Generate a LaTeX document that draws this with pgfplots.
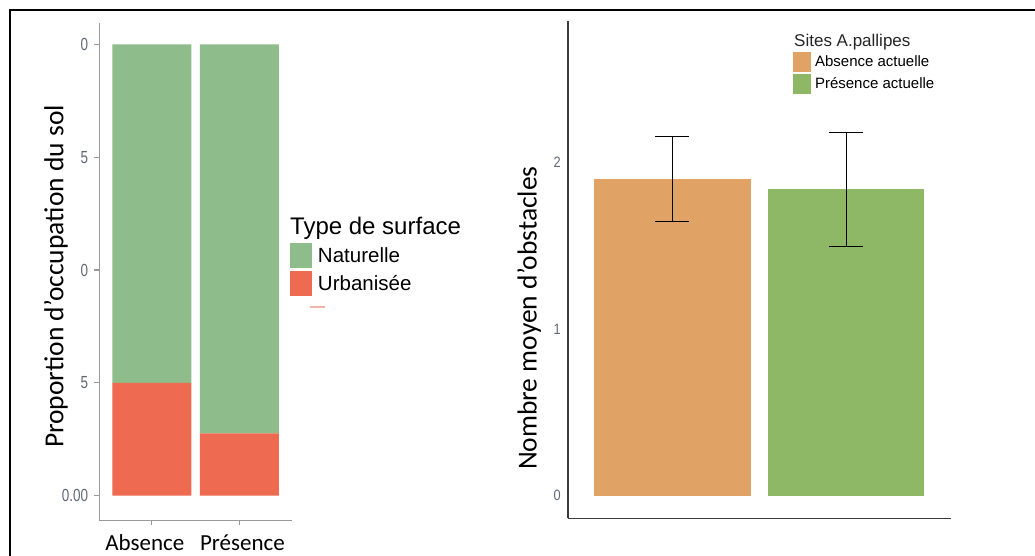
\documentclass[border=0pt]{standalone}
\usepackage{pgfplots}
\pgfplotsset{compat=1.18}
\usepackage{fontspec}
\setmainfont{Liberation Sans}
\newfontfamily\calibri{Carlito}
\newfontfamily\ticknarrow[FakeStretch=0.77]{Liberation Sans}
\newfontfamily\ticknarrowb[FakeStretch=0.85]{Liberation Sans}
\definecolor{nat}{HTML}{8FBC8B}
\definecolor{urb}{HTML}{EE6A50}
\definecolor{orng}{HTML}{E0A265}
\definecolor{grn}{HTML}{8FB866}
\definecolor{tickgray}{HTML}{5F6975}
\definecolor{axgray}{HTML}{9A9A9A}
\definecolor{darkax}{HTML}{3A3A3A}
\definecolor{artif}{HTML}{F4B3A6}
\pgfplotsset{
  sqlegA/.style={legend image code/.code={\fill[##1] (0pt,-12.5pt) rectangle (22pt,12.5pt);}},
  sqlegB/.style={legend image code/.code={\fill[##1] (0pt,-9.7pt) rectangle (17.4pt,9.7pt);}},
}
\begin{document}
\begin{tikzpicture}[x=1pt,y=1pt]
\useasboundingbox (0,0) rectangle (1035,556);
\fill[white] (0,0) rectangle (1035,556);
\draw[line width=2.2pt] (10,0) -- (10,546) -- (1040,546);

% ---------- left panel ----------
\begin{axis}[
  at={(99.3pt,35.7pt)}, anchor=south west, scale only axis,
  width=192.7pt, height=496.9pt,
  xmin=-0.6, xmax=1.6, ymin=-0.0545, ymax=1.0463,
  axis x line*=bottom, axis y line*=left,
  axis line style={axgray, line width=1.2pt, -},
  ybar stacked, bar width=79pt,
  xtick={0,1}, xticklabels={Absence\hspace*{14pt}, \hspace*{6pt}Présence},
  ytick={0,0.25,0.5,0.75,1}, yticklabels={0.00,5,0,5,0},
  tick align=outside, major tick length=5pt,
  tick style={axgray, line width=1.2pt},
  xticklabel style={font=\calibri\fontsize{23}{28}\selectfont, anchor=base, inner sep=0pt, yshift=-25.2pt},
  yticklabel style={font=\ticknarrow\fontsize{17.5}{20}\selectfont, text=tickgray, anchor=east, inner sep=0pt, xshift=-6pt},
  legend style={at={(0.9896,0.558)}, anchor=north west, draw=none, fill=none,
    inner sep=0pt, outer sep=0pt, row sep=3pt, column sep=6pt,
    font=\fontsize{20.5}{24}\selectfont, nodes={inner sep=0pt}},
  legend cell align=left,
]
\addlegendimage{sqlegA, fill=nat, draw=none}
\addlegendentry{Naturelle}
\addlegendimage{sqlegA, fill=urb, draw=none}
\addlegendentry{Urbanisée}
\addplot[fill=urb, draw=none, forget plot] coordinates {(0,0.25) (1,0.138)};
\addplot[fill=nat, draw=none, forget plot] coordinates {(0,0.75) (1,0.862)};
\end{axis}

% ---------- right panel ----------
\begin{axis}[
  at={(568pt,37.6pt)}, anchor=south west, scale only axis,
  width=382.6pt, height=497.1pt,
  xmin=-0.6, xmax=1.6, ymin=-0.136, ymax=2.848,
  axis x line*=bottom, axis y line*=left,
  axis line style={darkax, line width=1.2pt, -},
  xtick=\empty, ytick={0,1,2}, yticklabels={0,1,2}, major tick length=0pt,
  yticklabel style={font=\ticknarrowb\fontsize{15}{18}\selectfont, text=tickgray, anchor=east, inner sep=0pt, xshift=-7pt},
  legend style={at={(0.589,0.9376)}, anchor=north west, draw=none, fill=none,
    inner sep=0pt, outer sep=0pt, row sep=2.6pt, column sep=4.3pt,
    font=\fontsize{15}{18}\selectfont, nodes={inner sep=0pt}},
  legend cell align=left,
]
\addlegendimage{sqlegB, fill=orng, draw=none}
\addlegendentry{Absence actuelle}
\addlegendimage{sqlegB, fill=grn, draw=none}
\addlegendentry{Présence actuelle}
\addplot[ybar, bar width=156.4pt, bar shift=0pt, fill=orng, draw=none, forget plot,
  error bars/.cd, y dir=both, y explicit, error mark=|,
  error bar style={draw=black, line width=1pt},
  error mark options={draw=black, line width=1pt, mark size=17pt}]
  coordinates {(0,1.903) += (0,0.251) -= (0,0.258)};
\addplot[ybar, bar width=156.4pt, bar shift=0pt, fill=grn, draw=none, forget plot,
  error bars/.cd, y dir=both, y explicit, error mark=|,
  error bar style={draw=black, line width=1pt},
  error mark options={draw=black, line width=1pt, mark size=17pt}]
  coordinates {(1,1.843) += (0,0.336) -= (0,0.347)};
\end{axis}

% ---------- texts ----------
\node[anchor=base west, inner sep=0pt, font=\fontsize{24}{28}\selectfont] at (290,321) {Type de surface};
\draw[artif, line width=1.5pt] (310,249) -- (325,249);
\node[anchor=base west, inner sep=0pt, font=\fontsize{17}{20}\selectfont, text=black!85] at (794,509.3) {Sites A.pallipes};
\node[rotate=90, anchor=base, inner sep=0pt, font=\calibri\fontsize{27.5}{32}\selectfont] at (63.3,279.5) {Proportion d’occupation du sol};
\node[rotate=90, anchor=base, inner sep=0pt, font=\calibri\fontsize{27.5}{32}\selectfont] at (536.7,237.8) {Nombre moyen d’obstacles};
\end{tikzpicture}
\end{document}
